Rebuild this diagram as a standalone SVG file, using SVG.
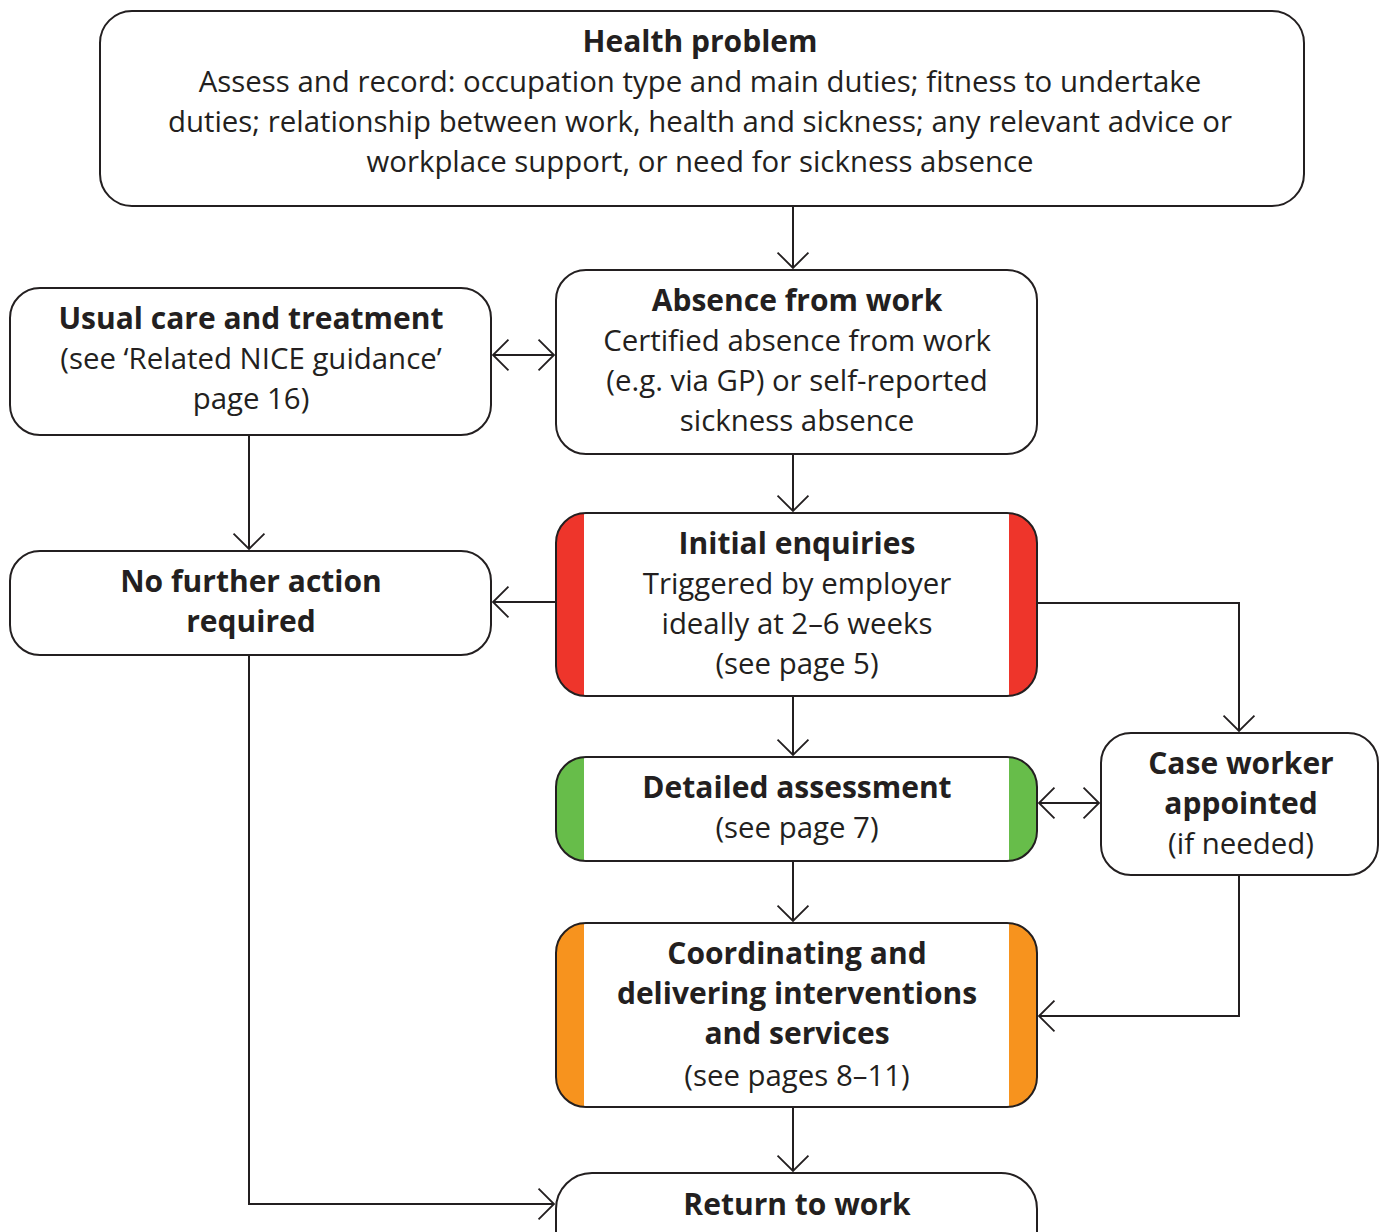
<svg xmlns="http://www.w3.org/2000/svg" width="1388" height="1232" viewBox="0 0 1388 1232">
<defs>
<style>
.box{fill:#fff;stroke:#231f20;stroke-width:2}
.edge{fill:none;stroke:#231f20;stroke-width:2}
text{font-family:"Open Sans","Noto Sans",sans-serif;font-size:29.4px;fill:#231f20;text-anchor:middle}
.b{font-weight:bold;font-size:30px}
</style>
<marker id="ah" markerWidth="20" markerHeight="40" viewBox="-20 -20 22 40" refX="0" refY="0" orient="auto" markerUnits="userSpaceOnUse">
<path d="M-17,-17 L0,0 L-17,17" fill="none" stroke="#231f20" stroke-width="2"/>
</marker>
<clipPath id="c-ie"><rect x="556" y="513" width="481" height="183" rx="30"/></clipPath>
<clipPath id="c-da"><rect x="556" y="757" width="481" height="104" rx="30"/></clipPath>
<clipPath id="c-co"><rect x="556" y="923" width="481" height="184" rx="30"/></clipPath>
</defs>
<rect width="1388" height="1232" fill="#fff"/>
<g id="connectors">
<path class="edge" d="M793,206 V268" marker-end="url(#ah)"/>
<path class="edge" d="M493,355 H554" marker-end="url(#ah)"/>
<path class="edge" d="M554,355 H493" marker-end="url(#ah)"/>
<path class="edge" d="M793,454 V511" marker-end="url(#ah)"/>
<path class="edge" d="M249,435 V549" marker-end="url(#ah)"/>
<path class="edge" d="M556,602 H493" marker-end="url(#ah)"/>
<path class="edge" d="M1037,603 H1239 V731" marker-end="url(#ah)"/>
<path class="edge" d="M793,696 V755" marker-end="url(#ah)"/>
<path class="edge" d="M1039,803 H1099" marker-end="url(#ah)"/>
<path class="edge" d="M1099,803 H1039" marker-end="url(#ah)"/>
<path class="edge" d="M793,861 V921" marker-end="url(#ah)"/>
<path class="edge" d="M1239,875 V1016 H1039" marker-end="url(#ah)"/>
<path class="edge" d="M793,1107 V1171" marker-end="url(#ah)"/>
<path class="edge" d="M249,655 V1204 H554" marker-end="url(#ah)"/>
</g>
<g id="health">
<rect class="box" x="100" y="11" width="1204" height="195" rx="32"/>
<text x="700" y="52" class="b">Health problem</text>
<text x="700" y="92">Assess and record: occupation type and main duties; fitness to undertake</text>
<text x="700" y="132">duties; relationship between work, health and sickness; any relevant advice or</text>
<text x="700" y="172">workplace support, or need for sickness absence</text>
</g>
<g id="absence">
<rect class="box" x="556" y="270" width="481" height="184" rx="30"/>
<text x="797" y="311" class="b">Absence from work</text>
<text x="797" y="351">Certified absence from work</text>
<text x="797" y="391">(e.g. via GP) or self-reported</text>
<text x="797" y="431">sickness absence</text>
</g>
<g id="usual">
<rect class="box" x="10" y="288" width="481" height="147" rx="30"/>
<text x="251" y="329" class="b">Usual care and treatment</text>
<text x="251" y="369">(see ‘Related NICE guidance’</text>
<text x="251" y="409">page 16)</text>
</g>
<g id="initial">
<g clip-path="url(#c-ie)">
<rect x="556" y="513" width="481" height="183" fill="#fff"/>
<rect x="556" y="513" width="28" height="183" fill="#ee352b"/>
<rect x="1009" y="513" width="28" height="183" fill="#ee352b"/>
</g>
<rect x="556" y="513" width="481" height="183" rx="30" fill="none" stroke="#231f20" stroke-width="2"/>
<text x="797" y="554" class="b">Initial enquiries</text>
<text x="797" y="594">Triggered by employer</text>
<text x="797" y="634">ideally at 2–6 weeks</text>
<text x="797" y="674">(see page 5)</text>
</g>
<g id="nofurther">
<rect class="box" x="10" y="551" width="481" height="104" rx="30"/>
<text x="251" y="592" class="b">No further action</text>
<text x="251" y="632" class="b">required</text>
</g>
<g id="detailed">
<g clip-path="url(#c-da)">
<rect x="556" y="757" width="481" height="104" fill="#fff"/>
<rect x="556" y="757" width="28" height="104" fill="#67bd4a"/>
<rect x="1009" y="757" width="28" height="104" fill="#67bd4a"/>
</g>
<rect x="556" y="757" width="481" height="104" rx="30" fill="none" stroke="#231f20" stroke-width="2"/>
<text x="797" y="798" class="b">Detailed assessment</text>
<text x="797" y="838">(see page 7)</text>
</g>
<g id="caseworker">
<rect class="box" x="1101" y="733" width="277" height="142" rx="30"/>
<text x="1241" y="774" class="b">Case worker</text>
<text x="1241" y="814" class="b">appointed</text>
<text x="1241" y="854">(if needed)</text>
</g>
<g id="coordinating">
<g clip-path="url(#c-co)">
<rect x="556" y="923" width="481" height="184" fill="#fff"/>
<rect x="556" y="923" width="28" height="184" fill="#f7931e"/>
<rect x="1009" y="923" width="28" height="184" fill="#f7931e"/>
</g>
<rect x="556" y="923" width="481" height="184" rx="30" fill="none" stroke="#231f20" stroke-width="2"/>
<text x="797" y="964" class="b">Coordinating and</text>
<text x="797" y="1004" class="b">delivering interventions</text>
<text x="797" y="1044" class="b">and services</text>
<text x="797" y="1086">(see pages 8–11)</text>
</g>
<g id="return">
<rect class="box" x="556" y="1173" width="481" height="100" rx="36"/>
<text x="797" y="1215" class="b">Return to work</text>
</g>
</svg>
